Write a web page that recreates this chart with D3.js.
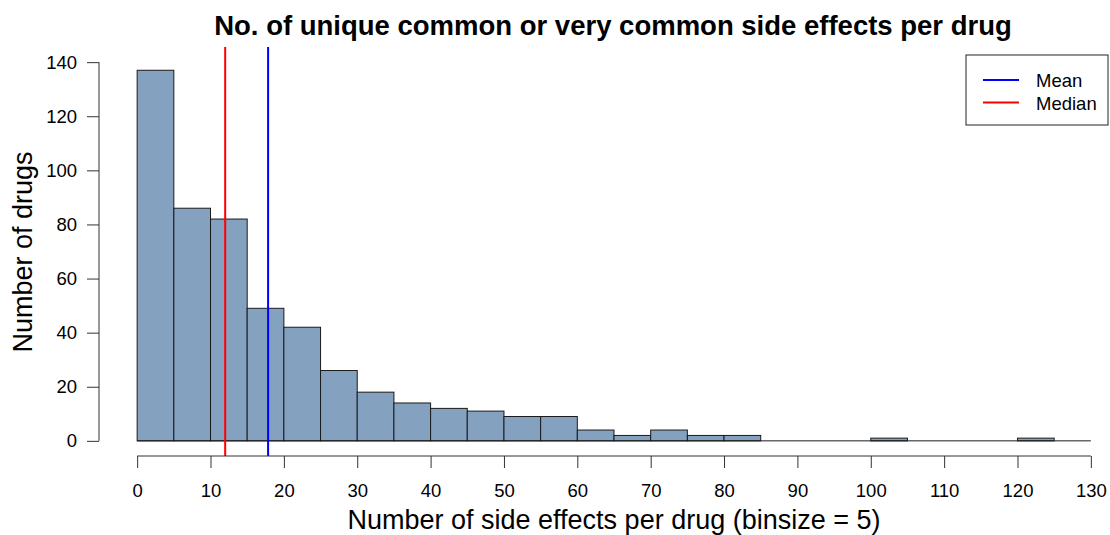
<!DOCTYPE html>
<html>
<head>
<meta charset="utf-8">
<script src="https://cdn.jsdelivr.net/npm/d3@7"></script>
<style>
  html, body { margin: 0; padding: 0; background: #fff; }
  svg { display: block; font-family: "Liberation Sans", Arial, sans-serif; }
</style>
</head>
<body>
<svg id="chart" width="1110" height="535"></svg>
<script>
// Histogram of side effects per drug, bins of width 5
const binStarts = [0, 5, 10, 15, 20, 25, 30, 35, 40, 45, 50, 55, 60, 65, 70, 75, 80, 85, 90, 95, 100, 105, 110, 115, 120, 125];
const binCounts = [137, 86, 82, 49, 42, 26, 18, 14, 12, 11, 9, 9, 4, 2, 4, 2, 2, 0, 0, 0, 1, 0, 0, 0, 1, 0];
const binSize = 5;
const xTicks = [0, 10, 20, 30, 40, 50, 60, 70, 80, 90, 100, 110, 120, 130];
const yTicks = [0, 20, 40, 60, 80, 100, 120, 140];
const meanValue = 17.85;
const medianValue = 12;
const legendItems = [{ label: "Mean", color: "#0000ff" }, { label: "Median", color: "#ff0000" }];

const svg = d3.select("#chart");

// plot region spans the data range plus a 4% margin on each side
const x = d3.scaleLinear().domain([-5.2, 135.2]).range([99, 1129]);
const y = d3.scaleLinear().domain([-5.6, 145.6]).range([456, 47]);

// bars
svg.append("g")
  .selectAll("rect")
  .data(binStarts.map((s, i) => ({ s, c: binCounts[i] })))
  .join("rect")
  .attr("x", d => x(d.s))
  .attr("y", d => y(d.c))
  .attr("width", d => x(d.s + binSize) - x(d.s))
  .attr("height", d => y(0) - y(d.c))
  .attr("fill", "#84a2c0")
  .attr("stroke", "#1a1a1a")
  .attr("stroke-width", 1);

// zero-height bins still draw a baseline
svg.append("line")
  .attr("x1", x(0)).attr("x2", x(130))
  .attr("y1", y(0)).attr("y2", y(0))
  .attr("stroke", "#1a1a1a").attr("stroke-width", 1);

// mean and median reference lines
svg.append("line")
  .attr("x1", x(medianValue)).attr("x2", x(medianValue))
  .attr("y1", y.range()[1]).attr("y2", y.range()[0])
  .attr("stroke", "#ff0000").attr("stroke-width", 2);
svg.append("line")
  .attr("x1", x(meanValue)).attr("x2", x(meanValue))
  .attr("y1", y.range()[1]).attr("y2", y.range()[0])
  .attr("stroke", "#0000ff").attr("stroke-width", 2);

// x axis
const xAxis = svg.append("g")
  .attr("transform", `translate(0, 456)`)
  .call(d3.axisBottom(x).tickValues(xTicks).tickSize(12).tickSizeOuter(0).tickPadding(16));
xAxis.select(".domain").attr("d", `M${x(0)},0H${x(130)}`).attr("stroke", "#333");
xAxis.selectAll(".tick line").attr("stroke", "#333");
xAxis.selectAll("text").attr("font-size", 18.5).attr("fill", "#000");

// y axis
const yAxis = svg.append("g")
  .attr("transform", `translate(99, 0)`)
  .call(d3.axisLeft(y).tickValues(yTicks).tickSize(12).tickSizeOuter(0).tickPadding(10));
yAxis.select(".domain").attr("d", `M0,${y(0)}V${y(140)}`).attr("stroke", "#333");
yAxis.selectAll(".tick line").attr("stroke", "#333");
yAxis.selectAll("text").attr("font-size", 18.5).attr("fill", "#000");

// title and axis labels
svg.append("text")
  .attr("x", 613).attr("y", 35)
  .attr("text-anchor", "middle")
  .attr("font-size", 27.5).attr("font-weight", "bold")
  .text("No. of unique common or very common side effects per drug");

svg.append("text")
  .attr("x", 614).attr("y", 529)
  .attr("text-anchor", "middle")
  .attr("font-size", 27)
  .text("Number of side effects per drug (binsize = 5)");

svg.append("text")
  .attr("transform", "translate(32, 252) rotate(-90)")
  .attr("text-anchor", "middle")
  .attr("font-size", 27)
  .text("Number of drugs");

// legend
const legend = svg.append("g").attr("transform", "translate(966, 55)");
legend.append("rect")
  .attr("width", 142).attr("height", 70)
  .attr("fill", "#fff").attr("stroke", "#222").attr("stroke-width", 1);
legendItems.forEach((item, i) => {
  const ly = 25 + i * 22.5;
  legend.append("line")
    .attr("x1", 17).attr("x2", 53).attr("y1", ly).attr("y2", ly)
    .attr("stroke", item.color).attr("stroke-width", 2);
  legend.append("text")
    .attr("x", 70).attr("y", ly + 7)
    .attr("font-size", 18.5)
    .text(item.label);
});
</script>
</body>
</html>
